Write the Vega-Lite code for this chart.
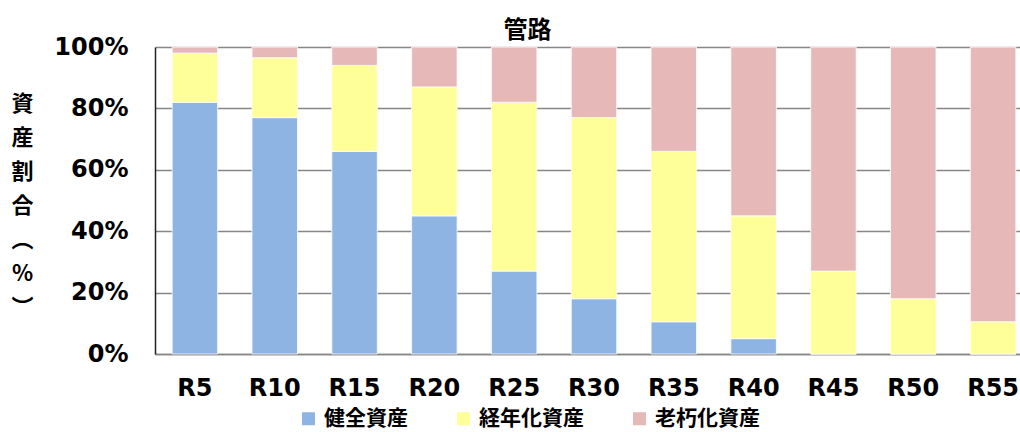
{
  "$schema": "https://vega.github.io/schema/vega-lite/v6.json",
  "autosize": "none",
  "width": 865,
  "height": 307,
  "padding": {"left": 155, "top": 47, "right": 0, "bottom": 78},
  "background": "white",
  "title": {
    "text": "管路",
    "font": "Noto Sans CJK JP",
    "fontSize": 24,
    "fontWeight": "bold",
    "color": "#000000",
    "anchor": "middle",
    "dx": -60,
    "dy": 8,
    "offset": 0
  },
  "data": {
    "values": [
      {"year": "R5", "type": "健全資産", "o": 1, "v": 82},
      {"year": "R5", "type": "経年化資産", "o": 2, "v": 16},
      {"year": "R5", "type": "老朽化資産", "o": 3, "v": 2},
      {"year": "R10", "type": "健全資産", "o": 1, "v": 77},
      {"year": "R10", "type": "経年化資産", "o": 2, "v": 19.5},
      {"year": "R10", "type": "老朽化資産", "o": 3, "v": 3.5},
      {"year": "R15", "type": "健全資産", "o": 1, "v": 66},
      {"year": "R15", "type": "経年化資産", "o": 2, "v": 28},
      {"year": "R15", "type": "老朽化資産", "o": 3, "v": 6},
      {"year": "R20", "type": "健全資産", "o": 1, "v": 45},
      {"year": "R20", "type": "経年化資産", "o": 2, "v": 42},
      {"year": "R20", "type": "老朽化資産", "o": 3, "v": 13},
      {"year": "R25", "type": "健全資産", "o": 1, "v": 27},
      {"year": "R25", "type": "経年化資産", "o": 2, "v": 55},
      {"year": "R25", "type": "老朽化資産", "o": 3, "v": 18},
      {"year": "R30", "type": "健全資産", "o": 1, "v": 18},
      {"year": "R30", "type": "経年化資産", "o": 2, "v": 59},
      {"year": "R30", "type": "老朽化資産", "o": 3, "v": 23},
      {"year": "R35", "type": "健全資産", "o": 1, "v": 10.5},
      {"year": "R35", "type": "経年化資産", "o": 2, "v": 55.5},
      {"year": "R35", "type": "老朽化資産", "o": 3, "v": 34},
      {"year": "R40", "type": "健全資産", "o": 1, "v": 5},
      {"year": "R40", "type": "経年化資産", "o": 2, "v": 40},
      {"year": "R40", "type": "老朽化資産", "o": 3, "v": 55},
      {"year": "R45", "type": "健全資産", "o": 1, "v": 0},
      {"year": "R45", "type": "経年化資産", "o": 2, "v": 27},
      {"year": "R45", "type": "老朽化資産", "o": 3, "v": 73},
      {"year": "R50", "type": "健全資産", "o": 1, "v": 0},
      {"year": "R50", "type": "経年化資産", "o": 2, "v": 18},
      {"year": "R50", "type": "老朽化資産", "o": 3, "v": 82},
      {"year": "R55", "type": "健全資産", "o": 1, "v": 0},
      {"year": "R55", "type": "経年化資産", "o": 2, "v": 10.5},
      {"year": "R55", "type": "老朽化資産", "o": 3, "v": 89.5}
    ]
  },
  "mark": {"type": "bar", "stroke": "white", "strokeWidth": 0.8},
  "encoding": {
    "x": {
      "field": "year",
      "type": "nominal",
      "sort": null,
      "scale": {"range": [0, 878], "paddingInner": 0.43, "paddingOuter": 0.215},
      "axis": {
        "title": null,
        "labelAngle": 0,
        "labelFont": "DejaVu Sans",
        "labelFontWeight": "bold",
        "labelFontSize": 24,
        "labelColor": "#000000",
        "labelPadding": 22,
        "ticks": false,
        "domainColor": "#868686",
        "domainWidth": 1.5
      }
    },
    "y": {
      "field": "v",
      "type": "quantitative",
      "stack": "normalize",
      "scale": {"domain": [0, 1], "nice": false},
      "axis": {
        "values": [0, 0.2, 0.4, 0.6, 0.8, 1],
        "format": ".0%",
        "labelFont": "DejaVu Sans",
        "labelFontWeight": "bold",
        "labelFontSize": 24,
        "labelColor": "#000000",
        "labelPadding": 27,
        "ticks": false,
        "domainColor": "#222222",
        "domainWidth": 1.5,
        "grid": true,
        "gridColor": "#868686",
        "gridWidth": 1.5,
        "title": ["資", "産", "割", "合", "︵", "%", "︶"],
        "titleFont": "Noto Sans CJK JP",
        "titleFontSize": 22,
        "titleFontWeight": "bold",
        "titleColor": "#000000",
        "titleAngle": 0,
        "titleAlign": "center",
        "titleBaseline": "top",
        "titleLineHeight": 34,
        "titleX": -133,
        "titleY": 46
      }
    },
    "color": {
      "field": "type",
      "type": "nominal",
      "sort": ["健全資産", "経年化資産", "老朽化資産"],
      "scale": {
        "domain": ["健全資産", "経年化資産", "老朽化資産"],
        "range": ["#8EB4E3", "#FFFF99", "#E6B9B8"]
      },
      "legend": {
        "title": null,
        "orient": "none",
        "direction": "horizontal",
        "legendX": 143,
        "legendY": 361,
        "symbolType": "square",
        "symbolSize": 169,
        "symbolStrokeWidth": 0,
        "labelFont": "Noto Sans CJK JP",
        "labelFontWeight": "bold",
        "labelFontSize": 21,
        "labelColor": "#000000",
        "labelOffset": 5,
        "columnPadding": 45
      }
    },
    "order": {"field": "o", "type": "quantitative"}
  },
  "config": {"view": {"stroke": null}}
}
